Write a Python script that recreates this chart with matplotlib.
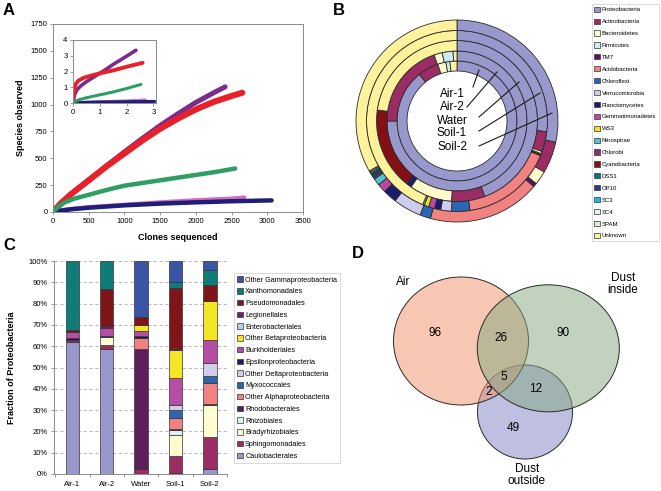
import numpy as np
import matplotlib
matplotlib.use("Agg")
import matplotlib.pyplot as plt
from matplotlib.patches import Patch, Ellipse

plt.rcParams['font.family'] = ['Liberation Sans', 'DejaVu Sans']

W, H = 661, 491

# ---------------- Panel A: rarefaction curves ----------------
purple_x = [0, 100, 250, 500, 750, 1000, 1250, 1500, 1750, 2000, 2250, 2410]
purple_y = [0, 75, 165, 295, 430, 560, 685, 805, 915, 1020, 1110, 1165]
red_x = [0, 100, 250, 500, 750, 1000, 1250, 1500, 1750, 2000, 2250, 2500, 2650]
red_y = [0, 75, 165, 295, 425, 545, 665, 775, 870, 955, 1025, 1080, 1110]
green_x = [0, 50, 150, 300, 500, 750, 1000, 1250, 1500, 1750, 2000, 2250, 2550]
green_y = [0, 35, 85, 125, 160, 205, 245, 270, 295, 320, 345, 370, 405]
pink_x = [0, 100, 250, 500, 1000, 1500, 2000, 2500, 2680]
pink_y = [0, 15, 28, 45, 68, 90, 110, 125, 135]
navy_x = [0, 100, 250, 500, 1000, 1500, 2000, 2500, 3060]
navy_y = [0, 12, 25, 40, 62, 78, 90, 100, 108]

# inset
in_purple_x = [0, 0.05, 0.15, 0.3, 0.5, 0.87, 1.2, 1.5, 2.0, 2.35]
in_purple_y = [0, 0.5, 0.85, 1.1, 1.35, 1.75, 2.1, 2.45, 2.97, 3.35]
in_red_x = [0, 0.02, 0.05, 0.1, 0.2, 0.4, 0.7, 1.0, 1.5, 2.0, 2.6]
in_red_y = [0, 0.5, 0.9, 1.2, 1.42, 1.6, 1.75, 1.88, 2.07, 2.3, 2.55]
in_green_x = [0, 0.1, 0.25, 0.5, 0.87, 1.5, 2.0, 2.54]
in_green_y = [0, 0.12, 0.22, 0.33, 0.47, 0.7, 0.92, 1.18]
in_pink_x = [0, 0.5, 1.0, 2.0, 2.7]
in_pink_y = [0, 0.06, 0.09, 0.14, 0.2]
in_navy_x = [0, 0.5, 1.0, 2.0, 3.05]
in_navy_y = [0, 0.04, 0.06, 0.08, 0.1]

# ---------------- Panel B: phyla per sample (percent) ----------------
phyla = ['Proteobacteria', 'Actinobacteria', 'Bacteroidetes', 'Firmicutes', 'TM7',
         'Acidobacteria', 'Chloroflexi', 'Verrucomicrobia', 'Planctomycetes',
         'Gemmatimonadetes', 'WS3', 'Nitrospirae', 'Chlorobi', 'Cyanobacteria',
         'DSS1', 'OP10', 'SC3', 'SC4', 'SPAM', 'Unknown']
phyla_colors = ['#9898CC', '#9B2D64', '#FFFBCC', '#CDEBF5', '#5E1060',
                '#F28282', '#2A66B4', '#CDCDEE', '#1C1C6E', '#B84AA2',
                '#F2E21C', '#4CC6D4', '#8A2A7C', '#821014',
                '#0C7470', '#2E3A8C', '#1FB8E0', '#DDF4F8', '#D6EED0', '#FFF29C']
air1_phyla = [89.2, 5.6, 2.2, 1.1, 0, 0, 0, 0, 0, 0, 0, 0, 0, 0, 0, 0, 0, 0, 0, 1.9]
air2_phyla = [75.0, 19.7, 1.9, 2.5, 0, 0, 0, 0, 0, 0, 0, 0, 0, 0, 0, 0, 0, 0, 0, 0.9]
water_phyla = [44.4, 6.7, 8.6, 0, 0, 0, 0, 0, 1.1, 0, 0, 0, 0, 16.4, 0, 0, 0, 0, 0, 22.8]
soil1_phyla = [26.9, 3.6, 0.4, 0.2, 0.2, 16.4, 3.3, 1.9, 1.1, 1.1, 0.8, 0.3,
               0, 0, 0, 0, 0, 0, 0, 43.8]
soil2_phyla = [28.1, 5.0, 2.2, 0, 0.6, 17.8, 1.7, 4.5, 2.2, 1.4, 0, 1.1,
               0.3, 0, 0.3, 0.3, 0.2, 0.2, 0.2, 32.9]
ring_names = ['Air-1', 'Air-2', 'Water', 'Soil-1', 'Soil-2']

# ---------------- Panel C: Proteobacteria orders (percent, bottom -> top) ----------------
samples = ['Air-1', 'Air-2', 'Water', 'Soil-1', 'Soil-2']
orders = ['Caulobacterales', 'Sphingomonadales', 'Bradyrhizobiales', 'Rhizobiales',
          'Rhodobacterales', 'Other Alphaproteobacteria', 'Myxococcales',
          'Other Deltaproteobacteria', 'Epsilonproteobacteria', 'Burkholderiales',
          'Other Betaproteobacteria', 'Enterobacteriales', 'Legionellales',
          'Pseudomonadales', 'Xanthomonadales', 'Other Gammaproteobacteria']
order_colors = ['#9898CC', '#9B2D64', '#FFFCCF', '#DDF2F8', '#5C1F5C', '#F28282',
                '#2F64AE', '#CFCFE8', '#1C1C60', '#B54EA4', '#F5E625', '#A6D9E3',
                '#6A2070', '#7E1519', '#0E7C78', '#3A55A5']
air1_orders = [62.0, 0.8, 0, 0, 0, 0, 0, 0, 1.2, 2.5, 0, 0, 0, 0.9, 32.6, 0]
air2_orders = [58.5, 2.0, 4.0, 0, 0, 0, 0, 0, 0.5, 3.5, 0, 0, 1.0, 17.5, 13.0, 0]
water_orders = [0, 2.5, 0, 0, 56.0, 5.5, 0, 0, 0.7, 2.5, 2.7, 0, 0, 3.9, 0, 26.2]
soil1_orders = [0.5, 7.8, 10.1, 2.3, 0.6, 4.9, 3.9, 2.3, 0, 12.6, 13.2, 0, 0.8, 28.2, 3.1, 9.7]
soil2_orders = [2.2, 15.0, 15.2, 0, 0.6, 9.6, 3.6, 5.8, 0, 10.7, 18.4, 0, 0, 7.8, 7.0, 4.1]

# ---------------- Panel D: Venn counts ----------------
venn_labels = ['Air', 'Dust\ninside', 'Dust\noutside']
venn_counts = {'A': 96, 'I': 90, 'O': 49, 'AI': 26, 'AO': 2, 'IO': 12, 'AIO': 5}


def px_rect(l, t, r, b):
    return [l / W, 1 - b / H, (r - l) / W, (b - t) / H]


fig = plt.figure(figsize=(W / 100, H / 100), dpi=100)
gray = '#8a8a8a'

# ---- A ----
axA = fig.add_axes(px_rect(53, 24, 303, 212))
for xs, ys, c, lw in [(purple_x, purple_y, '#7D2B8B', 3.6),
                      (red_x, red_y, '#E8202A', 4.4),
                      (pink_x, pink_y, '#D66BC1', 3.0),
                      (navy_x, navy_y, '#1F1F78', 3.2),
                      (green_x, green_y, '#2E9E62', 3.2)]:
    axA.plot(xs, ys, color=c, lw=lw, solid_capstyle='round')
axA.set_xlim(0, 3500)
axA.set_ylim(0, 1750)
axA.set_xticks(range(0, 3501, 500))
axA.set_yticks(range(0, 1751, 250))
axA.tick_params(labelsize=5.5, length=2, width=0.6, color=gray, pad=2)
for s in axA.spines.values():
    s.set_color(gray)
    s.set_linewidth(0.7)
axA.set_xlabel('Clones sequenced', fontsize=6.5, fontweight='bold', labelpad=6)
axA.set_ylabel('Species observed', fontsize=6.5, fontweight='bold', labelpad=4)

axI = fig.add_axes(px_rect(73, 40, 156, 103))
for xs, ys, c, lw in [(in_purple_x, in_purple_y, '#7D2B8B', 2.6),
                      (in_red_x, in_red_y, '#E8202A', 2.8),
                      (in_pink_x, in_pink_y, '#D66BC1', 2.0),
                      (in_navy_x, in_navy_y, '#1F1F78', 2.2),
                      (in_green_x, in_green_y, '#2E9E62', 2.2)]:
    axI.plot(xs, ys, color=c, lw=lw, solid_capstyle='round')
axI.set_xlim(0, 3.1)
axI.set_ylim(0, 4)
axI.set_xticks([0, 1, 2, 3])
axI.set_yticks([0, 1, 2, 3, 4])
axI.tick_params(labelsize=5.5, length=2, width=0.6, color=gray, pad=2)
for s in axI.spines.values():
    s.set_color(gray)
    s.set_linewidth(0.7)

# ---- B ----
cx, cy, half = 457, 121, 105
axB = fig.add_axes(px_rect(cx - half, cy - half, cx + half, cy + half))
outer = [60, 70, 80.5, 90.5, 101]
inner = [50, 60, 70, 80.5, 90.5]
for vals, ro, ri in zip([air1_phyla, air2_phyla, water_phyla, soil1_phyla, soil2_phyla],
                        outer, inner):
    v = [x for x in vals if x > 0]
    c = [col for x, col in zip(vals, phyla_colors) if x > 0]
    axB.pie(v, colors=c, radius=ro, startangle=90, counterclock=False,
            wedgeprops=dict(width=ro - ri, edgecolor='#2a2a2a', linewidth=0.6))
axB.set_xlim(-half, half)
axB.set_ylim(-half, half)
axB.set_aspect('equal')
label_y = [27, 13.5, 0, -12.5, -25.5]
line_ends = [((16, 34), (22, 51)), ((10, 14), (40, 49)), ((22, 4), (62, 39)),
             ((22, -10), (83, 28)), ((22, -25), (95, 8))]
for name, ly, (p0, p1) in zip(ring_names, label_y, line_ends):
    axB.text(-5, ly, name, fontsize=8.5, ha='center', va='center')
    axB.plot([p0[0], p1[0]], [p0[1], p1[1]], color='#1a1a1a', lw=0.8)

legB = fig.legend([Patch(facecolor=c, edgecolor='#333333', linewidth=0.5) for c in phyla_colors],
                  phyla, loc='upper right', bbox_to_anchor=(659 / W, 1 - 4 / H),
                  fontsize=4.3, frameon=True, fancybox=False, edgecolor='#c8c8c8',
                  handlelength=0.95, handleheight=0.95, handletextpad=0.3,
                  labelspacing=1.05, borderpad=0.45, borderaxespad=0)
legB.get_frame().set_linewidth(0.6)

# ---- C ----
axC = fig.add_axes(px_rect(53.5, 261, 227, 474))
xpos = np.arange(len(samples))
table = np.array([air1_orders, air2_orders, water_orders, soil1_orders, soil2_orders])
bottom = np.zeros(len(samples))
for k, (name, col) in enumerate(zip(orders, order_colors)):
    vals = table[:, k]
    axC.bar(xpos, vals, width=0.39, bottom=bottom, color=col,
            edgecolor='#333333', linewidth=np.where(vals > 0, 0.5, 0))
    bottom += vals
axC.set_xlim(-0.55, 4.5)
axC.set_ylim(0, 100)
axC.set_yticks(range(0, 101, 10))
axC.set_yticklabels([f'{v}%' for v in range(0, 101, 10)])
axC.set_xticks(xpos)
axC.set_xticklabels(samples)
axC.set_xticks(np.arange(-0.5, 4.6, 1), minor=True)
axC.tick_params(axis='x', which='major', length=0, labelsize=5.5, pad=5)
axC.tick_params(axis='x', which='minor', length=2.5, width=0.6, color=gray)
axC.tick_params(axis='y', labelsize=5.5, length=2, width=0.6, color=gray, pad=2)
axC.yaxis.grid(True, linestyle=(0, (4, 3)), color='#b0b0b0', linewidth=0.6)
axC.set_axisbelow(True)
for side in ['top', 'right']:
    axC.spines[side].set_visible(False)
for side in ['left', 'bottom']:
    axC.spines[side].set_color(gray)
    axC.spines[side].set_linewidth(0.7)
axC.set_ylabel('Fraction of Proteobacteria', fontsize=6.5, fontweight='bold', labelpad=9)

legC = fig.legend([Patch(facecolor=c, edgecolor='#333333', linewidth=0.5) for c in order_colors[::-1]],
                  orders[::-1], loc='upper left', bbox_to_anchor=(234 / W, 1 - 273 / H),
                  fontsize=5.2, frameon=True, fancybox=False, edgecolor='#c8c8c8',
                  handlelength=0.8, handleheight=0.8, handletextpad=0.3,
                  labelspacing=0.62, borderpad=0.45, borderaxespad=0)
legC.get_frame().set_linewidth(0.6)

# ---- D ----
axD = fig.add_axes(px_rect(340, 240, 661, 491))
axD.set_xlim(340, 661)
axD.set_ylim(491, 240)
axD.axis('off')
for (x, y, w, h, fc) in [(525, 412, 95, 94, '#8181C5'),
                         (461, 341, 135, 128, '#F19169'),
                         (548.3, 348.3, 142, 127, '#85A981')]:
    axD.add_patch(Ellipse((x, y), w, h, facecolor=fc, alpha=0.5, edgecolor='none'))
    axD.add_patch(Ellipse((x, y), w, h, facecolor='none', edgecolor='#2a2a2a', linewidth=0.7))
for key, (x, y) in {'A': (435, 333), 'AI': (501, 338), 'I': (563, 333), 'AIO': (504, 377),
                    'AO': (489, 392), 'IO': (536, 389), 'O': (513, 428)}.items():
    axD.text(x, y, str(venn_counts[key]), fontsize=8.5, ha='center', va='center')
axD.text(403, 282, venn_labels[0], fontsize=8.5, ha='center', va='center')
axD.text(623, 284, venn_labels[1], fontsize=8.5, ha='center', va='center', linespacing=1.1)
axD.text(527, 475, venn_labels[2], fontsize=8.5, ha='center', va='center', linespacing=1.1)

# panel letters
for letter, (x, y) in {'A': (3, 3), 'B': (333, 3), 'C': (3, 238), 'D': (352, 246)}.items():
    fig.text(x / W, 1 - y / H, letter, fontsize=12, fontweight='bold', va='top', ha='left')

fig.savefig('out.png', dpi=100)
